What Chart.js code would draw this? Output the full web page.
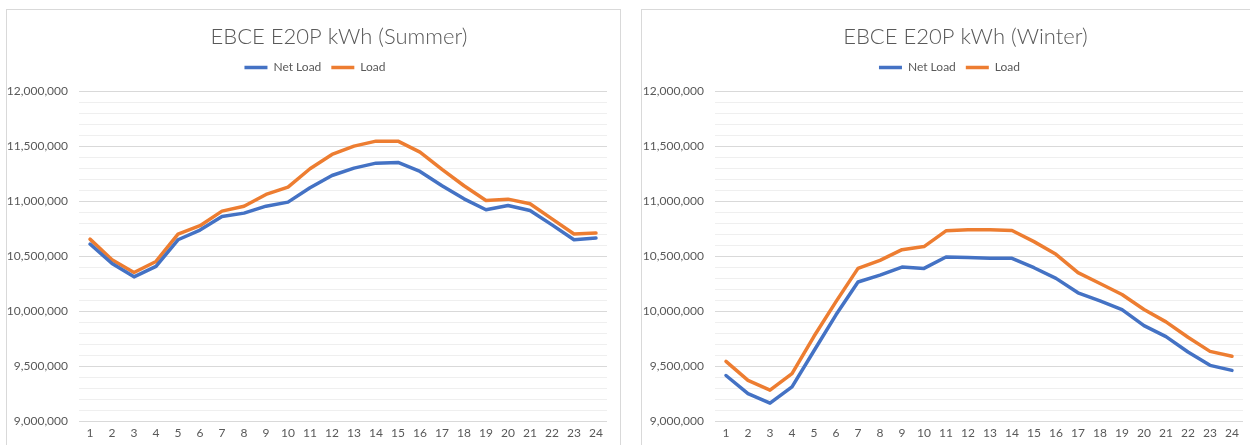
<!DOCTYPE html>
<html>
<head>
<meta charset="utf-8">
<script src="https://cdn.jsdelivr.net/npm/chart.js@4"></script>
<style>
  html, body { margin: 0; padding: 0; background: #fff; overflow: hidden; width: 1250px; height: 445px; }
  .box { position: absolute; top: 9px; border: 1px solid #d9d9d9; background: #fff; }
  #boxSummer { left: 6px; }
  #boxWinter { left: 641px; }
  canvas { display: block; }
</style>
</head>
<body>
<div class="box" id="boxSummer"><canvas id="summerChart" width="613" height="445"></canvas></div>
<div class="box" id="boxWinter"><canvas id="winterChart" width="615" height="445"></canvas></div>
<script>
  // Hours of the day
  const hours = ['1','2','3','4','5','6','7','8','9','10','11','12','13','14','15','16','17','18','19','20','21','22','23','24'];

  // Summer (kWh)
  const summerNetLoad = [
    10613000, 10436000, 10315000, 10410000, 10652000, 10740000, 10864000, 10894000,
    10957000, 10994000, 11124000, 11236000, 11303000, 11348000, 11355000, 11273000,
    11143000, 11024000, 10925000, 10964000, 10918000, 10787000, 10652000, 10667000
  ];
  const summerLoad = [
    10658000, 10470000, 10355000, 10455000, 10704000, 10780000, 10912000, 10957000,
    11064000, 11130000, 11297000, 11427000, 11503000, 11548000, 11548000, 11448000,
    11291000, 11143000, 11009000, 11021000, 10979000, 10842000, 10704000, 10713000
  ];

  // Winter (kWh)
  const winterNetLoad = [
    9419000, 9255000, 9167000, 9316000, 9644000, 9970000, 10268000, 10331000,
    10404000, 10392000, 10496000, 10490000, 10483000, 10483000, 10398000, 10301000,
    10170000, 10097000, 10018000, 9872000, 9772000, 9632000, 9511000, 9465000
  ];
  const winterLoad = [
    9547000, 9374000, 9286000, 9435000, 9775000, 10090000, 10392000, 10465000,
    10562000, 10590000, 10733000, 10742000, 10742000, 10736000, 10635000, 10520000,
    10353000, 10255000, 10155000, 10018000, 9906000, 9766000, 9638000, 9593000
  ];

  const textColor = '#595959';
  const font = 'Lato, "Open Sans", sans-serif';

  // a bit of room between legend and plot
  const legendGap = {
    id: 'legendGap',
    beforeInit(chart) {
      const fit = chart.legend.fit;
      chart.legend.fit = function () { fit.call(this); this.height += 8; };
    }
  };

  // Excel put title and legend a little right of centre
  const boxShift = {
    id: 'boxShift',
    afterLayout(chart, args, opts) {
      chart.titleBlock.left += opts.title;
      chart.titleBlock.right += opts.title;
      chart.legend.left += opts.legend;
      chart.legend.right += opts.legend;
    }
  };

  function makeChart(id, title, netLoad, load, padRight, axisWidth, shift) {
    const ctx = document.getElementById(id).getContext('2d');
    return new Chart(ctx, {
      type: 'line',
      plugins: [legendGap, boxShift],
      data: {
        labels: hours,
        datasets: [
          { label: 'Net Load', data: netLoad, borderColor: '#4472C4', backgroundColor: '#4472C4',
            borderWidth: 3.5, pointRadius: 0, tension: 0, borderCapStyle: 'round', borderJoinStyle: 'round' },
          { label: 'Load', data: load, borderColor: '#ED7D31', backgroundColor: '#ED7D31',
            borderWidth: 3.5, pointRadius: 0, tension: 0, borderCapStyle: 'round', borderJoinStyle: 'round' }
        ]
      },
      options: {
        responsive: false,
        animation: false,
        layout: { padding: { top: 10, left: 0, right: padRight, bottom: 11 } },
        scales: {
          y: {
            min: 9000000,
            max: 12000000,
            afterFit: s => { s.width = axisWidth; },
            border: { display: false },
            grid: {
              drawTicks: false,
              color: c => (c.tick && c.tick.value % 500000 === 0) ? '#d9d9d9' : '#efefef'
            },
            ticks: {
              stepSize: 100000,
              autoSkip: false,
              padding: 11,
              color: textColor,
              font: { family: font, size: 12 },
              callback: v => v % 500000 === 0 ? v.toLocaleString('en-US') : ''
            }
          },
          x: {
            offset: true,
            border: { display: false },
            grid: { display: false, drawTicks: false },
            ticks: { color: textColor, font: { family: font, size: 12 }, maxRotation: 0, padding: 4 }
          }
        },
        plugins: {
          boxShift: shift,
          title: {
            display: true,
            text: title,
            color: textColor,
            font: { family: font, size: 22, weight: '300' },
            padding: { top: 4, bottom: 1 }
          },
          legend: {
            labels: {
              usePointStyle: true,
              pointStyle: 'line',
              pointStyleWidth: 23,
              boxHeight: 12,
              color: textColor,
              font: { family: font, size: 12 },
              padding: 10
            }
          },
          tooltip: { enabled: false }
        }
      }
    });
  }

  makeChart('summerChart', 'EBCE E20P kWh (Summer)', summerNetLoad, summerLoad, 13, 72, { title: 32, legend: 8 });
  makeChart('winterChart', 'EBCE E20P kWh (Winter)', winterNetLoad, winterLoad, 14, 73, { title: 23, legend: 7 });
</script>
</body>
</html>
